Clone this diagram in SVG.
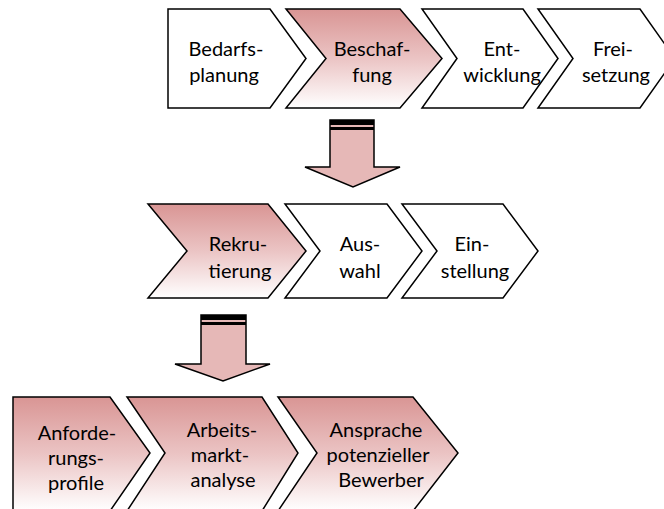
<svg xmlns="http://www.w3.org/2000/svg" width="664" height="509" viewBox="0 0 664 509">
<defs>
<linearGradient id="rose" x1="0" y1="0" x2="0" y2="1">
<stop offset="0" stop-color="#D99594"/>
<stop offset="0.5" stop-color="#EBC4C4"/>
<stop offset="1" stop-color="#FFFFFF"/>
</linearGradient>
</defs>
<style>
.s{stroke:#000;stroke-width:1.5;stroke-linejoin:miter}
.w{fill:#fff}
.r{fill:url(#rose)}
.a{fill:#E6B8B7;stroke:#000;stroke-width:1.5}
.bar{fill:#000}
text{font-family:Lato,"Open Sans","DejaVu Sans",sans-serif;font-size:20px;fill:#000;text-anchor:middle}
</style>
<rect width="664" height="509" fill="#fff"/>
<g id="bedarfsplanung">
<polygon class="s w" points="168,9 270,9 306,58.5 270,108 168,108"/>
<text x="226" y="56">Bedarfs-</text>
<text x="224" y="82">planung</text>
</g>
<g id="beschaffung">
<polygon class="s r" points="286,9 400,9 442,58.5 400,108 286,108 326,58.5"/>
<text x="372" y="56">Beschaf-</text>
<text x="372" y="82">fung</text>
</g>
<g id="entwicklung">
<polygon class="s w" points="422,9 523,9 558,58.5 523,108 422,108 457,58.5"/>
<text x="502" y="56">Ent-</text>
<text x="502" y="82">wicklung</text>
</g>
<g id="freisetzung">
<polygon class="s w" points="538,9 640,9 675,58.5 640,108 538,108 573,58.5"/>
<text x="613" y="56">Frei-</text>
<text x="616" y="82">setzung</text>
</g>
<g id="rekrutierung">
<polygon class="s r" points="148,204 268,204 306,251 268,298 148,298 187,251"/>
<text x="238" y="251">Rekru-</text>
<text x="240" y="278">tierung</text>
</g>
<g id="auswahl">
<polygon class="s w" points="285,204 387,204 422,251 387,298 285,298 320,251"/>
<text x="360" y="251">Aus-</text>
<text x="360" y="278">wahl</text>
</g>
<g id="einstellung">
<polygon class="s w" points="402,204 503,204 538,251 503,298 402,298 437,251"/>
<text x="472" y="251">Ein-</text>
<text x="475" y="278">stellung</text>
</g>
<g id="anforderungsprofile">
<polygon class="s r" points="13,397 110,397 150,453 110,511 13,511"/>
<text x="77" y="440">Anforde-</text>
<text x="76" y="465">rungs-</text>
<text x="76" y="490">profile</text>
</g>
<g id="arbeitsmarktanalyse">
<polygon class="s r" points="127,397 262,397 298,453 262,511 127,511 165,453"/>
<text x="222" y="437">Arbeits-</text>
<text x="220" y="462">markt-</text>
<text x="223" y="487">analyse</text>
</g>
<g id="ansprache">
<polygon class="s r" points="278,397 413,397 458,453 413,511 278,511 317,453"/>
<text x="376" y="437">Ansprache</text>
<text x="378" y="462">potenzieller</text>
<text x="381" y="487">Bewerber</text>
</g>
<g id="connectors">
<g id="arrow1">
<polygon class="a" points="330,120 374,120 374,167 400,167 353,187 305,167 330,167"/>
<rect class="bar" x="330" y="120" width="44" height="5"/>
<rect class="bar" x="330" y="127" width="44" height="3"/>
</g>
<g id="arrow2">
<polygon class="a" points="201,315 246,315 246,364 270,364 223,381 175,364 201,364"/>
<rect class="bar" x="201" y="315" width="45" height="5"/>
<rect class="bar" x="201" y="322" width="45" height="3"/>
</g>
</g>
</svg>
